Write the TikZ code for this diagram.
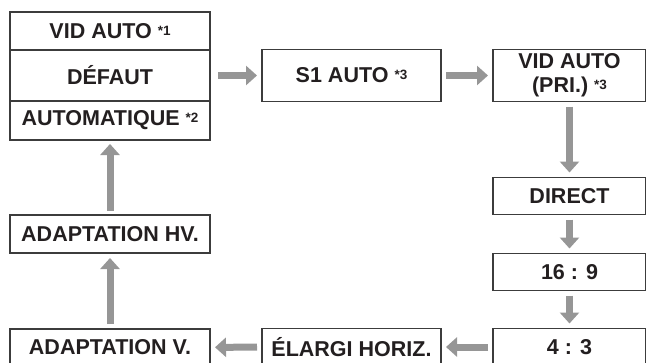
\documentclass[tikz,border=0pt]{standalone}
\usepackage{fontspec}
\setmainfont{Liberation Sans}
\usetikzlibrary{arrows.meta,positioning}

\definecolor{arrowgray}{RGB}{150,150,150}
\definecolor{boxline}{RGB}{60,60,60}
\definecolor{txt}{RGB}{35,31,32}
\newcommand{\nmark}[1]{\raisebox{3pt}{\fontsize{13.5}{13.5}\selectfont *#1}}

\begin{document}
\begin{tikzpicture}[x=1pt,y=-1pt,
 box/.style={draw=boxline,line width=1.2pt,outer sep=0pt,inner sep=0pt,align=center,text=txt,font=\fontsize{21.5}{24}\selectfont\bfseries},
 lbox/.style={box,minimum width=200pt},
 mbox/.style={box,minimum width=179pt,minimum height=52pt},
 rbox/.style={box,minimum width=153pt,minimum height=37pt},
 flow/.style={draw=arrowgray,line width=7pt,-{Triangle[length=11pt,width=19pt]},shorten <=5pt,shorten >=5pt}]
\clip (0,0) rectangle (646,362);
% left stack
\node[lbox,minimum height=51pt] (defaut) at (110,75.5) {DÉFAUT};
\node[lbox,minimum height=38pt,above=0pt of defaut] (vidauto) {VID AUTO \nmark{1}};
\node[lbox,minimum height=39pt,below=0pt of defaut] (automatique) {AUTOMATIQUE \nmark{2}};
% top row and right column
\node[mbox,right=52pt of defaut] (s1auto) {S1 AUTO \nmark{3}};
\node[rbox,minimum height=52pt,right=52pt of s1auto] (vidpri) {VID AUTO\\(PRI.) \nmark{3}};
\node[rbox,below=76pt of vidpri] (direct) {DIRECT};
\node[rbox,below=39pt of direct] (r169) {16 : 9};
\node[rbox,below=38pt of r169] (r43) {4 : 3};
% bottom row and left column
\node[mbox,minimum height=37pt,left=52pt of r43] (elargi) {ÉLARGI HORIZ.};
\node[lbox,minimum height=38pt,below=75pt of automatique] (adapthv) {ADAPTATION HV.};
\node[lbox,minimum height=37pt,below=76pt of adapthv] (adaptv) {ADAPTATION V.};
\draw[flow,shorten <=8pt] (defaut) -- (s1auto);
\draw[flow] (s1auto) -- (vidpri);
\draw[flow] (vidpri) -- (direct);
\draw[flow] (direct) -- (r169);
\draw[flow] (r169) -- (r43);
\draw[flow] (r43) -- (elargi);
\draw[flow] (elargi) -- (adaptv);
\draw[flow] (adaptv) -- (adapthv);
\draw[flow,shorten <=4pt,shorten >=4pt] (adapthv) -- (automatique);
\end{tikzpicture}
\end{document}
